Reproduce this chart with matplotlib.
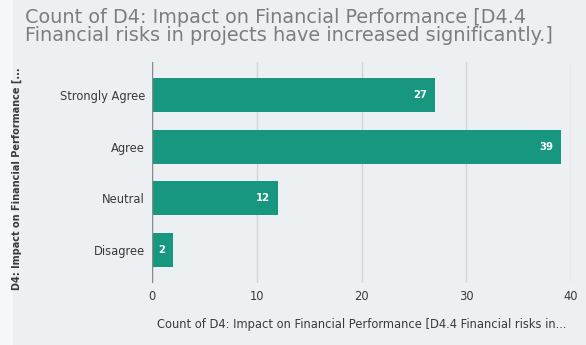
import matplotlib
matplotlib.use("Agg")
import matplotlib.pyplot as plt
from matplotlib.patches import Rectangle

categories = ["Strongly Agree", "Agree", "Neutral", "Disagree"]
counts = [27, 39, 12, 2]
x_ticks = [0, 10, 20, 30, 40]

title = ("Count of D4: Impact on Financial Performance [D4.4\n"
         "Financial risks in projects have increased significantly.]")
x_label = "Count of D4: Impact on Financial Performance [D4.4 Financial risks in..."
y_label = "D4: Impact on Financial Performance [..."

bg = "#edf0f3"
bar_color = "#17977f"
text_dark = "#3a3a3a"

plt.rcParams["font.family"] = ["DejaVu Sans"]

fig = plt.figure(figsize=(5.86, 3.45), dpi=100, facecolor=bg)
# pale strip along the left edge
fig.patches.append(Rectangle((0, 0), 13 / 586, 1, transform=fig.transFigure,
                             facecolor="#f6f7f8", edgecolor="none", zorder=0))

ax = fig.add_axes([152 / 586, 1 - 283 / 345, (571 - 152) / 586, (283 - 62) / 345])
ax.set_facecolor(bg)

positions = list(range(len(categories)))[::-1]
bars = ax.barh(positions, counts, height=0.66, color=bar_color, zorder=3)

for pos, val in zip(positions, counts):
    ax.text(val - 0.7, pos, str(val), ha="right", va="center",
            color="white", fontsize=7.3, fontweight="bold", zorder=4)

ax.set_xlim(0, 40)
ax.set_ylim(-0.64, 3.64)
ax.set_xticks(x_ticks)
ax.set_xticklabels([str(t) for t in x_ticks], fontsize=8.3, color=text_dark)
ax.set_yticks(positions)
ax.set_yticklabels(categories, fontsize=8.3, color=text_dark)
ax.tick_params(axis="both", length=0, pad=5)

ax.grid(axis="x", color="#d2d5d8", linewidth=1.0, zorder=0)
ax.axvline(0, color="#8a8a8a", linewidth=1.0, zorder=5)
for s in ax.spines.values():
    s.set_visible(False)

ax.set_xlabel(x_label, fontsize=8.3, color=text_dark, labelpad=11)
fig.text(17 / 586, 1 - 179 / 345, y_label, rotation=90, ha="center", va="center",
         fontsize=7.0, color=text_dark, fontweight="bold")

fig.text(25 / 586, 1 - 8 / 345, title, ha="left", va="top", fontsize=13.9,
         color="#7d7d7d", linespacing=0.92)

fig.savefig("out.png", dpi=100, facecolor=bg)
